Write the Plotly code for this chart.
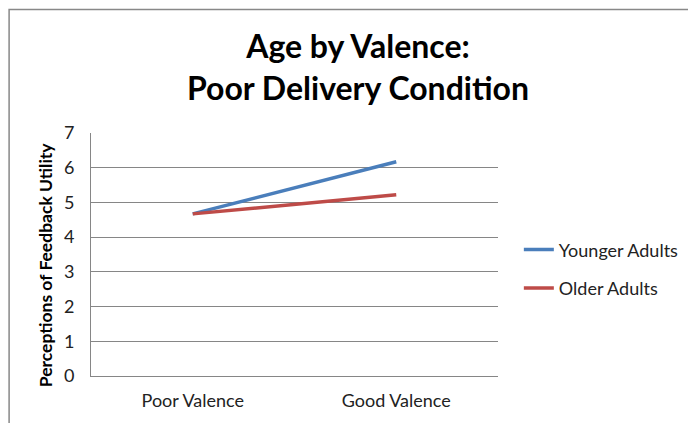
import plotly.graph_objects as go

categories = ["Poor Valence", "Good Valence"]
younger = [4.67, 6.17]
older = [4.67, 5.22]
series_names = ["Younger Adults", "Older Adults"]
y_ticks = [0, 1, 2, 3, 4, 5, 6, 7]

FONT = "Lato, Calibri, sans-serif"

fig = go.Figure()
fig.add_trace(go.Scatter(x=categories, y=younger, mode="lines", name=series_names[0],
                         legendgroup="a", line=dict(color="#4a7ebb", width=3.5)))
fig.add_trace(go.Scatter(x=categories, y=older, mode="lines", name=series_names[1],
                         legendgroup="b", line=dict(color="#be4b48", width=3.5)))

# page body has an 8px offset; work in figure pixel coordinates
OFF = 8
W, H = 696 - OFF, 423 - OFF
L = 91 - OFF
T = 133 - OFF
R = W - (501 - OFF)
B = H - (378 - OFF)
pw, ph = W - L - R, H - T - B


def px_x(sx):
    return (sx - OFF - L) / pw


def px_y(sy):
    return (H - B - (sy - OFF)) / ph


fig.update_layout(
    width=W, height=H,
    margin=dict(l=L, r=R, t=T, b=B),
    paper_bgcolor="white", plot_bgcolor="white",
    font=dict(family=FONT, size=18, color="#222"),
    title=dict(text="<b>Age by Valence:<br>Poor Delivery Condition</b>",
               x=(358 - OFF) / W, xanchor="center", y=1 - (58 - OFF) / H, yanchor="middle",
               font=dict(size=32, color="black", family=FONT)),
    xaxis=dict(type="category", range=[-0.5, 1.5], showgrid=False,
               showline=True, linecolor="#868686", linewidth=1,
               ticks="", ticklabelstandoff=8, tickfont=dict(size=18, color="#222")),
    yaxis=dict(range=[0, 7], tickvals=y_ticks, showgrid=True, gridcolor="#868686",
               gridwidth=1, showline=True, linecolor="#868686", linewidth=1,
               zeroline=False, ticks="", ticklabelstandoff=12,
               tickfont=dict(size=18, color="#222")),
    legend=dict(x=px_x(522), y=px_y(270), xanchor="left", yanchor="middle",
                font=dict(size=18, color="#222"), tracegroupgap=12,
                traceorder="grouped", bgcolor="rgba(0,0,0,0)"),
    annotations=[dict(text="<b>Perceptions of Feedback Utility</b>", textangle=-90,
                      xref="paper", yref="paper", x=px_x(46), y=px_y(266),
                      xanchor="center", yanchor="middle", showarrow=False,
                      font=dict(size=17.5, color="black", family=FONT))],
    shapes=[dict(type="rect", xref="paper", yref="paper",
                 x0=px_x(8.5), x1=px_x(705),
                 y0=px_y(430), y1=px_y(8.5),
                 line=dict(color="#888888", width=1.5), fillcolor="rgba(0,0,0,0)", layer="below")],
)

fig.write_html("out.html")
